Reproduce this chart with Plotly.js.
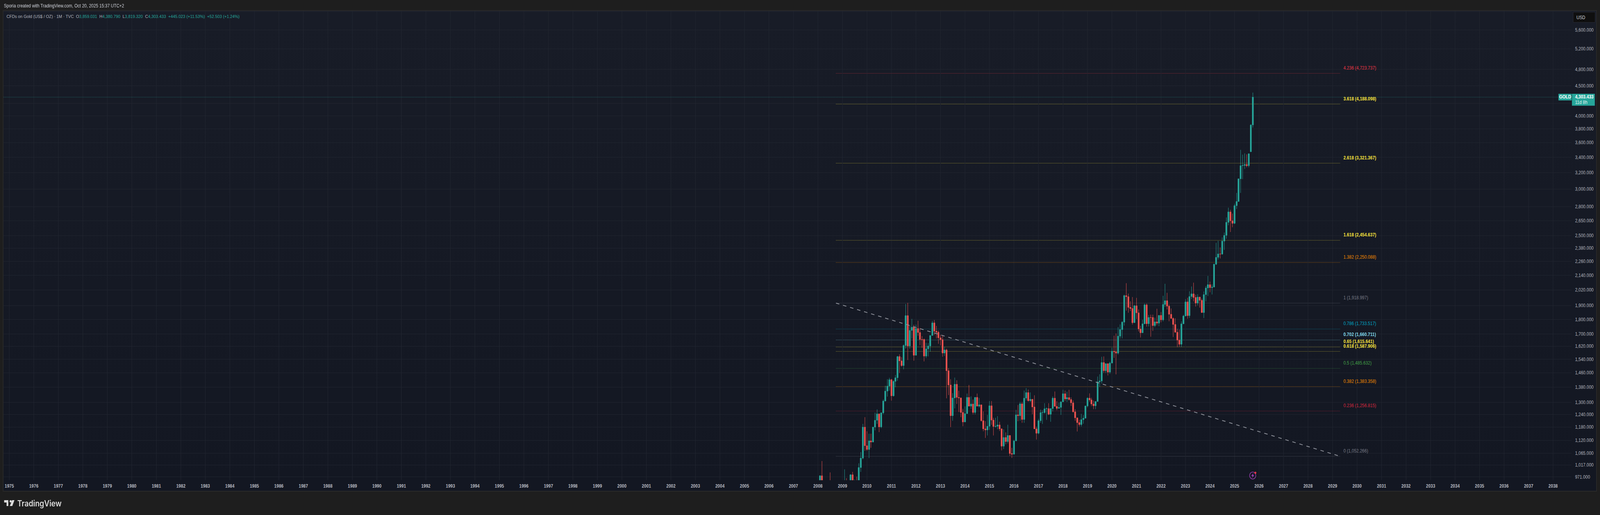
<!DOCTYPE html>
<html>
<head>
<meta charset="utf-8">
<title>CFDs on Gold</title>
<script src="https://cdn.plot.ly/plotly-3.0.1.min.js"></script>
<style>
  html, body { margin: 0; padding: 0; background: #1e1e1e; overflow: hidden; }
  #page { position: absolute; left: 0; top: 0; width: 4621px; height: 1318px; transform-origin: 0 0; }
  #frame { position: absolute; left: 8px; top: 26px; width: 4600px; height: 1228px;
           border: 2px solid #2a2a2a; background: linear-gradient(#181c27, #131722); }
  #chart { position: absolute; left: 0; top: 0; width: 4621px; height: 1318px; }
</style>
</head>
<body>
<div id="page">
<div id="frame"></div>
<div id="chart"></div>
</div>
<script>
// monthly candles, Jan 2008 to Oct 2025, one row per year
var open_ = [
  833,923,975,916,865,885,925,912,831,871,717,815,
  880,928,943,916,885,979,927,955,953,1007,1045,1180,
  1097,1081,1118,1113,1180,1212,1243,1181,1248,1307,1359,1386,
  1421,1334,1412,1432,1556,1530,1502,1625,1827,1622,1724,1746,
  1564,1737,1710,1664,1664,1559,1604,1622,1690,1776,1719,1712,
  1675,1663,1578,1597,1472,1392,1234,1323,1396,1326,1323,1250,
  1204,1244,1326,1281,1292,1250,1326,1281,1288,1210,1172,1167,
  1184,1283,1213,1183,1184,1190,1172,1095,1133,1115,1142,1064,
  1061,1118,1238,1234,1293,1216,1322,1351,1309,1316,1277,1172,
  1152,1210,1249,1249,1268,1269,1241,1269,1322,1280,1270,1275,
  1303,1345,1318,1325,1315,1298,1253,1224,1201,1192,1215,1222,
  1282,1322,1313,1292,1283,1305,1409,1414,1520,1472,1513,1464,
  1517,1589,1585,1577,1686,1730,1781,1976,1968,1887,1879,1777,
  1899,1847,1734,1708,1769,1906,1770,1814,1814,1757,1783,1774,
  1829,1797,1909,1937,1896,1837,1807,1765,1712,1660,1633,1769,
  1824,1928,1827,1969,1990,1962,1919,1965,1940,1849,1984,2036,
  2063,2039,2044,2235,2296,2327,2326,2447,2503,2634,2744,2650,
  2624,2812,2858,3124,3289,3293,3304,3289,3475,3859.031
];
var high = [
  923,977,1033,935,935,945,988,918,912,920,830,890,
  928,1000,966,925,981,990,961,972,1024,1070,1195,1227,
  1161,1150,1150,1181,1249,1265,1245,1250,1315,1388,1424,1432,
  1426,1418,1448,1560,1570,1553,1632,1912,1921,1758,1804,1763,
  1764,1791,1740,1686,1670,1642,1640,1692,1790,1796,1755,1723,
  1695,1690,1617,1605,1487,1424,1348,1433,1418,1361,1326,1268,
  1280,1346,1392,1331,1315,1328,1346,1323,1288,1255,1208,1238,
  1307,1307,1224,1224,1232,1205,1174,1170,1156,1191,1144,1088,
  1123,1263,1287,1303,1303,1362,1375,1367,1352,1318,1337,1182,
  1219,1264,1261,1296,1275,1296,1270,1331,1357,1306,1299,1305,
  1366,1362,1356,1366,1326,1310,1266,1224,1214,1243,1237,1284,
  1326,1347,1324,1310,1304,1439,1452,1555,1557,1516,1516,1525,
  1611,1689,1704,1747,1765,1788,1984,2075,1992,1933,1965,1906,
  1959,1872,1756,1798,1916,1916,1832,1834,1834,1813,1877,1829,
  1853,1975,2070,1998,1909,1879,1814,1808,1735,1730,1786,1833,
  1949,1960,2010,2048,2079,1983,1987,1967,1953,2009,2052,2135,
  2088,2065,2240,2431,2450,2387,2483,2531,2685,2790,2767,2726,
  2833,2956,3128,3500,3435,3452,3439,3452,3870,4380.79
];
var low = [
  833,885,900,855,850,860,905,775,730,680,700,745,
  800,890,865,865,868,910,905,930,930,990,1040,1075,
  1075,1045,1088,1113,1165,1195,1157,1175,1241,1307,1330,1361,
  1309,1330,1380,1415,1459,1495,1480,1605,1535,1604,1670,1531,
  1564,1688,1627,1610,1527,1547,1557,1587,1690,1693,1671,1636,
  1626,1555,1560,1321,1338,1180,1210,1270,1292,1252,1227,1184,
  1204,1244,1281,1268,1240,1240,1281,1274,1206,1161,1131,1142,
  1167,1191,1142,1178,1170,1162,1077,1083,1103,1107,1054,1046,
  1061,1118,1208,1210,1200,1200,1310,1304,1302,1241,1172,1124,
  1147,1200,1195,1244,1214,1237,1205,1255,1280,1261,1275,1238,
  1303,1307,1303,1309,1282,1250,1210,1160,1183,1183,1196,1222,
  1275,1303,1281,1266,1266,1305,1382,1400,1459,1458,1445,1454,
  1517,1548,1451,1568,1670,1671,1757,1863,1848,1860,1764,1777,
  1803,1717,1677,1708,1769,1750,1751,1682,1721,1746,1759,1753,
  1780,1786,1890,1872,1787,1805,1680,1709,1615,1617,1616,1769,
  1824,1805,1810,1950,1932,1893,1902,1885,1849,1810,1932,1973,
  2002,1985,2040,2228,2277,2286,2320,2364,2470,2604,2536,2584,
  2615,2775,2858,2956,3120,3247,3268,3268,3470,3819.32
];
var close_ = [
  923,975,916,865,885,925,912,831,871,717,815,880,
  928,943,916,885,979,927,955,953,1007,1045,1180,1097,
  1081,1118,1113,1180,1212,1243,1181,1248,1307,1359,1386,1421,
  1334,1412,1432,1556,1530,1502,1625,1827,1622,1724,1746,1564,
  1737,1710,1664,1662,1559,1604,1622,1690,1776,1719,1712,1675,
  1663,1578,1597,1472,1392,1234,1323,1396,1326,1323,1250,1204,
  1244,1326,1281,1292,1250,1326,1281,1288,1210,1172,1167,1184,
  1283,1213,1183,1184,1190,1172,1095,1133,1115,1142,1064,1061,
  1118,1238,1234,1293,1216,1322,1351,1309,1316,1277,1172,1152,
  1210,1249,1250,1268,1269,1241,1269,1322,1280,1270,1275,1303,
  1345,1318,1325,1315,1298,1253,1224,1201,1192,1215,1222,1282,
  1322,1313,1292,1283,1305,1409,1414,1520,1472,1513,1464,1517,
  1589,1585,1577,1686,1730,1781,1976,1968,1887,1879,1777,1899,
  1847,1734,1708,1769,1906,1770,1814,1813,1757,1783,1774,1829,
  1797,1909,1937,1896,1837,1807,1765,1712,1660,1633,1769,1824,
  1928,1827,1969,1990,1962,1919,1965,1940,1849,1984,2036,2063,
  2039,2044,2235,2296,2327,2326,2447,2503,2634,2744,2650,2624,
  2812,2858,3124,3289,3293,3304,3289,3447,3858,4303.433
];

var fibRatios = ['4.236','3.618','2.618','1.618','1.382','1','0.786','0.702','0.65','0.618','0.5','0.382','0.236','0'];
var fibPrices = [4723.737,4188.098,3321.367,2454.637,2250.088,1918.997,1733.517,1660.711,1615.641,1587.906,1485.632,1383.358,1256.815,1052.266];
var fibLabels = ['4,723.737','4,188.098','3,321.367','2,454.637','2,250.088','1,918.997','1,733.517','1,660.711','1,615.641','1,587.906','1,485.632','1,383.358','1,256.815','1,052.266'];
var fibColors = ['#f23645','#f5e13c','#f5e13c','#f5e13c','#f58a00','#787b86','#00a5c4','#7fd6e8','#f5e13c','#f5e13c','#43a047','#f58a00','#d8283f','#787b86'];
var fibBold = ['3.618','2.618','1.618','0.702','0.65','0.618'];

var priceTicks = [6020,5600,5200,4800,4500,4200,4000,3800,3600,3400,3200,3000,2800,2650,2500,2380,2260,2140,2020,1900,1800,1700,1620,1540,1460,1380,1300,1240,1180,1120,1065,1017,971];
var hiddenTicks = [6020,4200]; // covered by the USD box and the price tag

var lastPrice = 4303.433;

var months = [];
for (var i = 0; i < close_.length; i++) {
  var yy = 2008 + Math.floor(i / 12);
  var mm = i % 12 + 1;
  months.push(yy + '-' + (mm < 10 ? '0' + mm : mm) + '-01');
}

// the window can come out narrower than 4621, squeeze the page into it
var page = document.getElementById('page');
var fit = window.innerWidth / 4621;
if (fit < 1) page.style.transform = 'scaleX(' + fit + ')';

// plot box in page pixels, used for the page furniture only
var L = 10, R = 4539, T = 28, B = 1229;
function px(x) { return (x - L) / (R - L); }
function py(y) { return (B - y) / (B - T); }

var xStart = '1974-10-06', xEnd = '2038-10-04';
var fibFrom = '2008-09-26', fibTo = '2029-04-27', fibText = '2029-06-06';

function priceText(v) {
  if (hiddenTicks.indexOf(v) >= 0) return '';
  return v.toLocaleString('en-US') + '.000';
}

var candles = {
  type: 'candlestick',
  x: months,
  open: open_,
  high: high,
  low: low,
  close: close_,
  increasing: { line: { color: '#26a69a', width: 1 }, fillcolor: '#26a69a' },
  decreasing: { line: { color: '#ef5350', width: 1 }, fillcolor: '#ef5350' },
  whiskerwidth: 0,
  showlegend: false,
  hoverinfo: 'skip'
};

var trendLine = {
  type: 'scatter',
  mode: 'lines',
  x: [fibFrom, fibTo],
  y: [fibPrices[5], fibPrices[13]],
  line: { color: '#8d9099', width: 2, dash: '10px,11px' },
  showlegend: false,
  hoverinfo: 'skip'
};

var lastLine = {
  type: 'scatter',
  mode: 'lines',
  x: [xStart, '2038-04-15'],
  y: [lastPrice, lastPrice],
  line: { color: '#26a69a', width: 1, dash: '1px,2px' },
  showlegend: false,
  hoverinfo: 'skip'
};

var font = 'Liberation Sans, Arial, sans-serif';
var shapes = [];
var notes = [];

fibPrices.forEach(function (p, k) {
  shapes.push({
    type: 'line', layer: 'below', xref: 'x', yref: 'y',
    x0: fibFrom, x1: fibTo, y0: p, y1: p,
    opacity: 0.65,
    line: { color: fibColors[k], width: 1, dash: '2px,1.5px' }
  });
  var t = fibRatios[k] + ' (' + fibLabels[k] + ')';
  if (fibBold.indexOf(fibRatios[k]) >= 0) t = '<b>' + t + '</b>';
  notes.push({
    xref: 'x', yref: 'y', x: fibText, y: Math.log10(p),
    text: t, showarrow: false, xanchor: 'left', yanchor: 'middle',
    yshift: 13.7, borderpad: 0,
    font: { family: font, size: 12, color: fibColors[k] }
  });
});

function rect(x0, y0, x1, y1, fill) {
  shapes.push({
    type: 'rect', layer: 'above', xref: 'paper', yref: 'paper',
    x0: px(x0), x1: px(x1), y0: py(y0), y1: py(y1),
    fillcolor: fill, line: { width: 0 }
  });
}
function pathOf(pts) {
  return pts.map(function (p, n) {
    return (n ? 'L' : 'M') + px(p[0]) + ',' + py(p[1]);
  }).join(' ') + ' Z';
}
function poly(pts, fill) {
  shapes.push({
    type: 'path', layer: 'above', xref: 'paper', yref: 'paper',
    path: pathOf(pts), fillcolor: fill, line: { width: 0 }
  });
}
function circle(cx, cy, r, fill, stroke) {
  shapes.push({
    type: 'circle', layer: 'above', xref: 'paper', yref: 'paper',
    x0: px(cx - r), x1: px(cx + r), y0: py(cy + r), y1: py(cy - r),
    fillcolor: fill, line: { color: stroke || 'rgba(0,0,0,0)', width: stroke ? 1.6 : 0 }
  });
}
function label(x, y, text, size, color, opts) {
  var f = { family: (opts && opts.family) || font, size: size, color: color };
  if (opts && opts.weight) f.weight = opts.weight;
  notes.push({
    xref: 'paper', yref: 'paper', x: px(x), y: py(y), text: text, showarrow: false,
    xanchor: (opts && opts.anchor) || 'left', yanchor: 'middle', borderpad: 0, font: f
  });
}

// USD box, price tag
shapes.push({
  type: 'rect', layer: 'above', xref: 'paper', yref: 'paper',
  x0: px(4543.5), x1: px(4607), y0: py(57.3), y1: py(31),
  fillcolor: '#0f0f0f', line: { color: '#2a2e39', width: 1 }
});
label(4552, 44.7, 'USD', 12, '#d1d4dc');
rect(4540, 240, 4606, 270.5, '#26a69a');
rect(4501, 240, 4539, 257, '#26a69a');
label(4548, 247.7, '<b>4,303.433</b>', 12, '#ffffff');
label(4548, 261.8, '11d 8h', 12, '#e6f5f3');
label(4520, 248.3, '<b>GOLD</b>', 12, '#ffffff', { anchor: 'center' });

// header and legend line
label(10, 15, 'Sporia created with TradingView.com, Oct 20, 2025 15:37 UTC+2', 12, '#d1d4dc');
var teal = function (s) { return '<span style="color:#26a69a">' + s + '</span>'; };
var gap = '\u00a0\u00a0';
label(18, 41.7,
  'CFDs on Gold (US$ / OZ) · 1M · TVC' + gap +
  'O' + teal('3,859.031') + gap + 'H' + teal('4,380.790') + gap +
  'L' + teal('3,819.320') + gap + 'C' + teal('4,303.433') + gap +
  teal('+445.023 (+11.53%)') + gap + teal('+52.503 (+1.24%)'),
  11.7, '#b2b5be');

// logo
poly([[12,1280],[24,1280],[24,1295],[19,1295],[19,1286],[12,1286]], '#dcdcdc');
circle(30.7, 1283, 3, '#dcdcdc');
poly([[35,1280],[41.7,1280],[35.5,1295],[28.3,1295]], '#dcdcdc');
label(49, 1288, 'TradingView', 21, '#dcdcdc', { family: 'Inter, sans-serif', weight: 600 });

// bolt badge under the last candles
circle(3618, 1217, 9, 'rgba(0,0,0,0)', '#9c3fb5');
poly([[3620,1211],[3613.5,1218],[3617.3,1218],[3616,1223],[3622.5,1216],[3618.8,1216]], '#9c3fb5');
circle(3625.7, 1210, 2.8, '#f23645');

var layout = {
  width: 4621,
  height: 1318,
  margin: { l: L, r: 4621 - R, t: T, b: 1318 - B, pad: 0 },
  paper_bgcolor: 'rgba(0,0,0,0)',
  plot_bgcolor: 'rgba(0,0,0,0)',
  boxgap: 0.03,
  showlegend: false,
  hovermode: false,
  xaxis: {
    type: 'date',
    range: [xStart, xEnd],
    tickmode: 'linear',
    tick0: '1975-01-01',
    dtick: 'M12',
    tickformat: '%Y',
    ticks: '',
    ticklabelstandoff: 6,
    tickfont: { family: font, size: 12, color: '#b2b5be', weight: 'bold' },
    showgrid: true,
    gridcolor: '#242833',
    gridwidth: 1,
    zeroline: false,
    showline: false,
    rangeslider: { visible: false }
  },
  yaxis: {
    type: 'log',
    side: 'right',
    range: [Math.log10(958.2), Math.log10(6034)],
    tickmode: 'array',
    tickvals: priceTicks,
    ticktext: priceTicks.map(priceText),
    ticks: '',
    ticklabelstandoff: 9,
    tickfont: { family: font, size: 12, color: '#b2b5be' },
    showgrid: true,
    gridcolor: '#242833',
    gridwidth: 1,
    zeroline: false,
    showline: false
  },
  shapes: shapes,
  annotations: notes
};

Plotly.newPlot('chart', [candles, trendLine, lastLine], layout, { staticPlot: true });
</script>
</body>
</html>
